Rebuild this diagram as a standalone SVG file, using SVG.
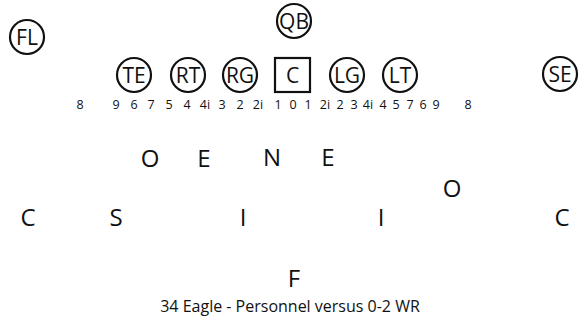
<svg xmlns="http://www.w3.org/2000/svg" width="579" height="328" viewBox="0 0 579 328">
<style>
text{font-family:"Open Sans","Noto Sans","Liberation Sans",sans-serif;fill:#111;text-anchor:middle}
.pl{fill:#fff;stroke:#111;stroke-width:2.2}
.pt{font-size:21px}
.num{font-size:12.5px}
.d{font-size:24px}
.cap{font-size:16px}
</style>
<rect width="579" height="328" fill="#fff"/>
<g id="FL"><circle class="pl" cx="27" cy="37" r="17"/><text class="pt" x="27" y="44.5">FL</text></g>
<g id="QB"><circle class="pl" cx="294" cy="21" r="17"/><text class="pt" x="294" y="28.5">QB</text></g>
<g id="TE"><circle class="pl" cx="134" cy="75" r="17"/><text class="pt" x="134" y="82.5">TE</text></g>
<g id="RT"><circle class="pl" cx="188" cy="75" r="17"/><text class="pt" x="188" y="82.5">RT</text></g>
<g id="RG"><circle class="pl" cx="240" cy="75" r="17"/><text class="pt" x="240" y="82.5">RG</text></g>
<g id="C"><rect class="pl" x="275" y="58" width="35" height="34"/><text class="pt" x="292.5" y="82.5">C</text></g>
<g id="LG"><circle class="pl" cx="347" cy="75" r="17"/><text class="pt" x="347" y="82.5">LG</text></g>
<g id="LT"><circle class="pl" cx="400" cy="75" r="17"/><text class="pt" x="400" y="82.5">LT</text></g>
<g id="SE"><circle class="pl" cx="560" cy="74" r="17"/><text class="pt" x="560" y="81.5">SE</text></g>
<g id="gaps">
<text class="num" x="80" y="109">8</text>
<text class="num" x="116" y="109">9</text>
<text class="num" x="134" y="109">6</text>
<text class="num" x="151" y="109">7</text>
<text class="num" x="169" y="109">5</text>
<text class="num" x="187" y="109">4</text>
<text class="num" x="205" y="109">4i</text>
<text class="num" x="222" y="109">3</text>
<text class="num" x="240" y="109">2</text>
<text class="num" x="258" y="109">2i</text>
<text class="num" x="278" y="109">1</text>
<text class="num" x="293" y="109">0</text>
<text class="num" x="308" y="109">1</text>
<text class="num" x="325" y="109">2i</text>
<text class="num" x="340" y="109">2</text>
<text class="num" x="354" y="109">3</text>
<text class="num" x="368" y="109">4i</text>
<text class="num" x="383" y="109">4</text>
<text class="num" x="396" y="109">5</text>
<text class="num" x="410" y="109">7</text>
<text class="num" x="423" y="109">6</text>
<text class="num" x="436" y="109">9</text>
<text class="num" x="468" y="109">8</text>
</g>
<g id="defense">
<text class="d" x="150" y="167">O</text>
<text class="d" x="204" y="167">E</text>
<text class="d" x="272" y="166">N</text>
<text class="d" x="328" y="166">E</text>
<text class="d" x="452" y="197">O</text>
<text class="d" x="28" y="226">C</text>
<text class="d" x="116" y="226">S</text>
<text class="d" x="243" y="226">I</text>
<text class="d" x="381" y="226">I</text>
<text class="d" x="562" y="226">C</text>
<text class="d" x="294" y="287">F</text>
</g>
<text class="cap" x="290" y="312">34 Eagle - Personnel versus 0-2 WR</text>
</svg>
